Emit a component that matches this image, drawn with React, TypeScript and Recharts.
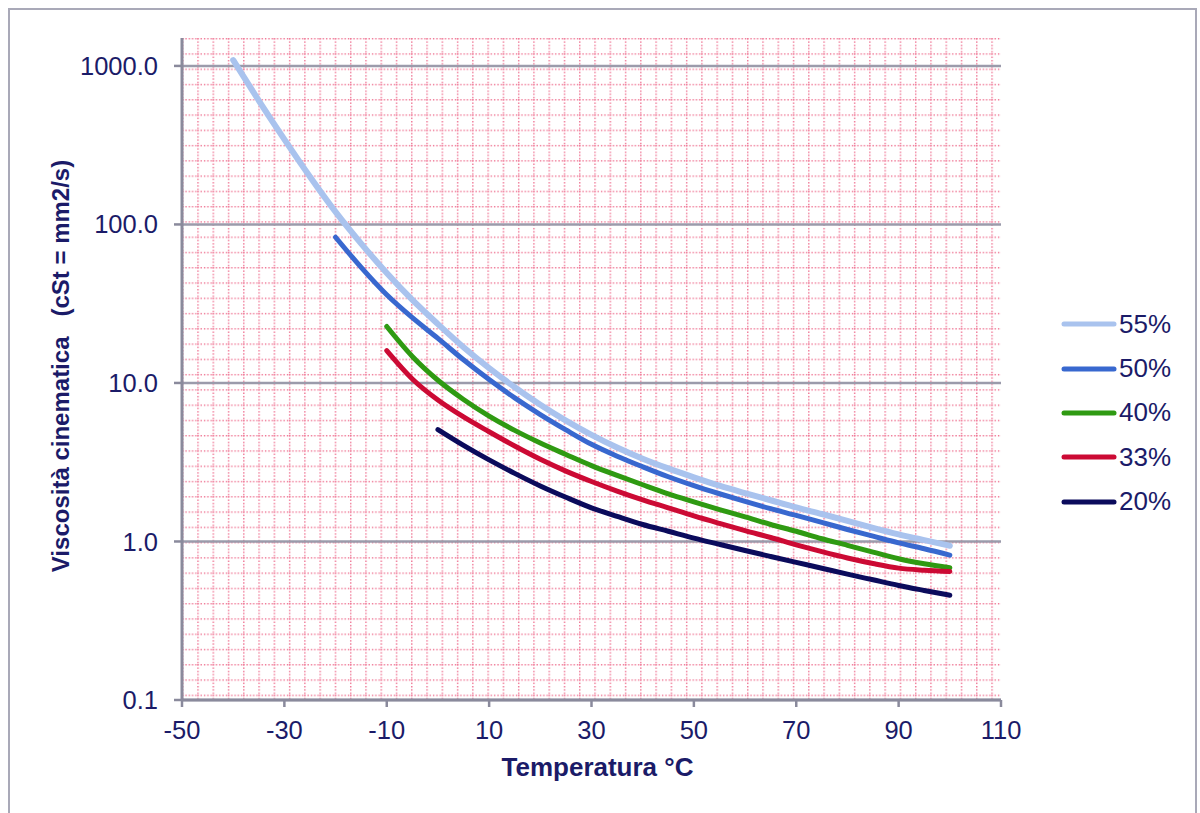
import React from 'react';
import { LineChart, Line, XAxis, YAxis, CartesianGrid, Legend } from 'recharts';

const temperatures = [-40, -35, -30, -25, -20, -15, -10, -5, 0, 5, 10, 15, 20, 25, 30, 35, 40, 45, 50, 55, 60, 65, 70, 75, 80, 85, 90, 95, 100];
const visc55 = [1089, 605, 344, 200, 120, 75.7, 49.4, 33.4, 23.5, 16.8, 12.4, 9.4, 7.29, 5.79, 4.71, 3.92, 3.33, 2.89, 2.54, 2.25, 2.02, 1.82, 1.64, 1.49, 1.35, 1.22, 1.11, 1.02, 0.94];
const visc50 = [null, null, null, null, 83, 53.6, 36, 25.8, 19.1, 14.0, 10.5, 8.05, 6.32, 5.06, 4.1, 3.45, 2.96, 2.56, 2.25, 2.0, 1.79, 1.61, 1.46, 1.32, 1.19, 1.08, 0.98, 0.9, 0.82];
const visc40 = [null, null, null, null, null, null, 22.7, 14.7, 10.4, 7.87, 6.18, 5.02, 4.18, 3.54, 3.01, 2.61, 2.28, 2.0, 1.78, 1.59, 1.43, 1.28, 1.16, 1.04, 0.946, 0.857, 0.778, 0.723, 0.682];
const visc33 = [null, null, null, null, null, null, 16.0, 10.6, 7.8, 6.1, 4.92, 4.0, 3.3, 2.78, 2.39, 2.08, 1.83, 1.63, 1.45, 1.3, 1.17, 1.06, 0.953, 0.863, 0.787, 0.726, 0.679, 0.659, 0.647];
const visc20 = [null, null, null, null, null, null, null, null, 5.08, 4.04, 3.27, 2.69, 2.24, 1.9, 1.63, 1.44, 1.28, 1.16, 1.05, 0.959, 0.877, 0.804, 0.738, 0.678, 0.622, 0.573, 0.528, 0.491, 0.458];

const seriesKeys = ['v55', 'v50', 'v40', 'v33', 'v20'];
const seriesNames = ['55%', '50%', '40%', '33%', '20%'];
const seriesColors = ['#a9c3ee', '#3868cf', '#2f9a12', '#cc0a34', '#0b0b5c'];
const seriesWidths = [6, 5, 5, 5, 5];

const xTicks = [-50, -30, -10, 10, 30, 50, 70, 90, 110];
const yTicks = [0.1, 1, 10, 100, 1000];

const data = temperatures.map((t, i) => ({
  t,
  v55: visc55[i],
  v50: visc50[i],
  v40: visc40[i],
  v33: visc33[i],
  v20: visc20[i],
}));

const FONT = '"Liberation Sans", Arial, sans-serif';
const NAVY = '#1b1b68';

const YTitle = (props: any) => {
  const vb = props.viewBox || {};
  const cx = vb.x + 60;
  const cy = vb.y + vb.height / 2 - 3;
  return (
    <text
      x={cx}
      y={cy}
      transform={`rotate(-90 ${cx} ${cy})`}
      textAnchor="middle"
      dominantBaseline="central"
      fill={NAVY}
      fontFamily={FONT}
      fontSize={24}
      fontWeight="bold"
      style={{ whiteSpace: 'pre' }}
    >
      {'Viscosità cinematica   (cSt = mm2/s)'}
    </text>
  );
};

const XTitle = (props: any) => {
  const vb = props.viewBox || {};
  const cx = vb.x + vb.width / 2 + 6;
  const cy = vb.y + 76;
  return (
    <text x={cx} y={cy} textAnchor="middle" fill={NAVY} fontFamily={FONT} fontSize={26} fontWeight="bold">
      Temperatura °C
    </text>
  );
};

const LegendBox = () => (
  <div style={{ fontFamily: FONT, fontSize: 26, color: NAVY }}>
    {seriesNames.map((n, i) => (
      <div key={n} style={{ display: 'flex', alignItems: 'center', height: 44.4 }}>
        <svg width={56} height={8} style={{ display: 'block' }}>
          <line x1={3} y1={4} x2={53} y2={4} stroke={seriesColors[i]} strokeWidth={5} strokeLinecap="round" />
        </svg>
        <span style={{ marginLeft: 2 }}>{n}</span>
      </div>
    ))}
  </div>
);

export default function App() {
  return (
    <div style={{ position: 'absolute', left: 0, top: 0, width: 1200, height: 813, overflow: 'hidden', background: '#fff' }}>
      <div
        style={{
          position: 'absolute',
          left: 8,
          top: 8,
          width: 1189,
          height: 840,
          border: '2px solid #a9a9b8',
          boxSizing: 'border-box',
        }}
      />
      <div style={{ position: 'absolute', left: 0, top: 0 }}>
        <LineChart width={1200} height={813} data={data} margin={{ top: 38, right: 199, bottom: 0, left: 0 }}>
          <defs>
            <pattern id="paper" patternUnits="userSpaceOnUse" x={182} y={38} width={15.27} height={15.27}>
              <line x1={0} y1={0.7} x2={15.27} y2={0.7} stroke="#ef7896" strokeWidth={1.5} strokeDasharray="1.4 1.9" />
              <line x1={0.7} y1={0} x2={0.7} y2={15.27} stroke="#ef7896" strokeWidth={1.5} strokeDasharray="1.4 1.9" />
            </pattern>
          </defs>
          <CartesianGrid fill="url(#paper)" stroke="none" horizontal={false} vertical={false} />
          <CartesianGrid vertical={false} syncWithTicks stroke="#9b9bab" strokeWidth={2.5} fill="none" />
          <XAxis
            dataKey="t"
            type="number"
            domain={[-50, 110]}
            ticks={xTicks}
            height={113}
            axisLine={{ stroke: '#8a8a9c', strokeWidth: 3 }}
            tickLine={{ stroke: '#8a8a9c', strokeWidth: 2.5 }}
            tickSize={7}
            tickMargin={14}
            tick={{ fill: NAVY, fontSize: 25.5, fontFamily: FONT }}
            label={<XTitle />}
            allowDataOverflow
          />
          <YAxis
            scale="log"
            domain={[0.1, 1500]}
            ticks={yTicks}
            width={182}
            allowDataOverflow
            axisLine={{ stroke: '#8a8a9c', strokeWidth: 3 }}
            tickLine={{ stroke: '#8a8a9c', strokeWidth: 2.5 }}
            tickSize={8}
            tickMargin={16}
            tick={{ fill: NAVY, fontSize: 25.5, fontFamily: FONT }}
            tickFormatter={(v: number) => v.toFixed(1)}
            label={<YTitle />}
          />
          <Legend
            layout="vertical"
            align="center"
            verticalAlign="middle"
            content={<LegendBox />}
            wrapperStyle={{ left: 1061, top: 302, width: 135 }}
          />
          {seriesKeys.map((k, i) => (
            <Line
              key={k}
              dataKey={k}
              name={seriesNames[i]}
              type="monotone"
              stroke={seriesColors[i]}
              strokeWidth={seriesWidths[i]}
              strokeLinecap="round"
              dot={false}
              activeDot={false}
              connectNulls={false}
              isAnimationActive={false}
            />
          ))}
        </LineChart>
      </div>
    </div>
  );
}
